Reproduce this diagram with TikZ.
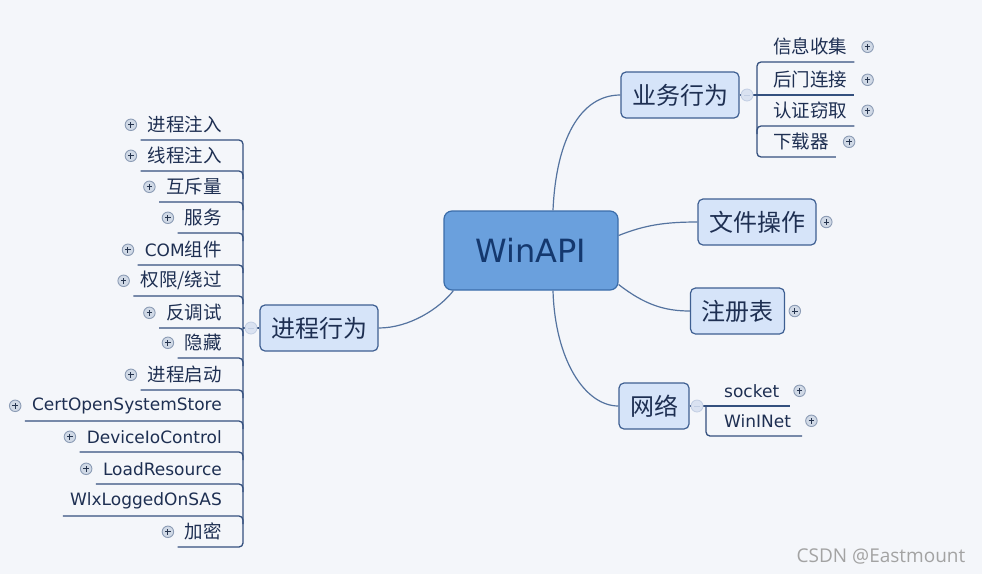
\documentclass[tikz,border=0pt]{standalone}
\usepackage{fontspec}
\setmainfont{DejaVu Sans}
\newfontfamily\cjk{Noto Sans CJK SC}
\newfontfamily\wmfont{Open Sans}
\usetikzlibrary{positioning}
\definecolor{bgcol}{HTML}{F4F6FA}
\definecolor{linkcol}{HTML}{54739F}
\definecolor{twigcol}{HTML}{34507E}
\definecolor{txtcol}{HTML}{1E2F52}
\definecolor{boxfill}{HTML}{D6E4F9}
\definecolor{boxline}{HTML}{3E5F92}
\definecolor{rootfill}{HTML}{6AA0DD}
\definecolor{rootline}{HTML}{3B6DAA}
\definecolor{roottext}{HTML}{14386E}
\definecolor{plusfill}{HTML}{D0D9E6}
\definecolor{plusline}{HTML}{8C9CB5}
\definecolor{plusmark}{HTML}{26354F}
\definecolor{minusfill}{HTML}{DAE2F1}
\definecolor{minusline}{HTML}{C2CEE3}
\definecolor{wmcol}{HTML}{A3A3A3}
\newcommand{\zh}{\cjk\fontsize{18.5}{20}\selectfont}

\begin{document}
\begin{tikzpicture}[x=1pt,y=-1pt,
  leaf/.style={font=\zh, text=txtcol, inner xsep=7pt, inner ysep=0pt, minimum height=30pt},
  leafl/.style={leaf, anchor=south east},
  leafr/.style={leaf, anchor=south west},
  latin/.style={font=\fontsize{17}{20}\selectfont},
  twig/.style={draw=twigcol, line width=1.3pt, rounded corners=4pt},
  link/.style={draw=linkcol, line width=1.2pt},
  topic/.style={draw=boxline, fill=boxfill, line width=1.2pt, rounded corners=5pt, minimum height=46pt, inner xsep=11pt, font=\cjk\fontsize{24}{26}\selectfont, text=txtcol},
  expander/.style={circle, draw=plusline, fill=plusfill, line width=0.9pt, minimum size=11.5pt, inner sep=0pt,
    path picture={\draw[plusmark, line width=1pt] ([xshift=-2.8pt]path picture bounding box.center) -- ([xshift=2.8pt]path picture bounding box.center) ([yshift=-2.8pt]path picture bounding box.center) -- ([yshift=2.8pt]path picture bounding box.center);}},
  collapser/.style={circle, draw=minusline, fill=minusfill, line width=0.8pt, minimum size=12pt, inner sep=0pt,
    path picture={\draw[minusline, line width=0.8pt] ([xshift=-2.8pt]path picture bounding box.center) -- ([xshift=2.8pt]path picture bounding box.center);}}]
\useasboundingbox (0,0) rectangle (982,574);
\fill[bgcol] (0,0) rectangle (982,574);
\node[draw=rootline, fill=rootfill, line width=1.2pt, rounded corners=8pt, minimum width=174pt, minimum height=79pt, text=roottext, font=\fontsize{32}{36}\selectfont] (root) at (531,250.5) {WinAPI};
\node[topic] (b1) at (319,328) {进程行为};
\node[topic] (b2) at (680,95) {业务行为};
\node[topic] (b3) at (757,222) {文件操作};
\node[topic] (b4) at (737.5,311) {注册表};
\node[topic] (b5) at (654,406) {网络};
\draw[link] ([xshift=10pt]root.south west) .. controls (440,308) and (410,328) .. (b1.east);
\draw[link] ([xshift=22pt]root.north) .. controls (556,140) and (580,95) .. (b2.west);
\draw[link] ([yshift=15pt]root.east) .. controls (645,225) and (665,222) .. (b3.west);
\draw[link] ([yshift=-34pt]root.east) .. controls (645,305) and (665,311) .. (b4.west);
\draw[link] ([xshift=22pt]root.south) .. controls (555,360) and (585,406) .. (b5.west);
\node[expander, right=3.5pt of b3] {};
\node[expander, right=3.5pt of b4] {};
\node[leafl] (p1) at (229,140) {进程注入};
\node[leafl] (p2) at (229,171) {线程注入};
\node[leafl] (p3) at (229,202) {互斥量};
\node[leafl] (p4) at (229,233) {服务};
\node[leafl, latin] (p5) at (229,265) {COM{\zh 组件}};
\node[leafl] (p6) at (229,296) {权限/绕过};
\node[leafl] (p7) at (229,328) {反调试};
\node[leafl] (p8) at (229,358) {隐藏};
\node[leafl] (p9) at (229,390) {进程启动};
\node[leafl, latin] (p10) at (229,421) {CertOpenSystemStore};
\node[leafl, latin] (p11) at (229,452) {DeviceIoControl};
\node[leafl, latin] (p12) at (229,484) {LoadResource};
\node[leafl, latin] (p13) at (229,516) {WlxLoggedOnSAS};
\node[leafl] (p14) at (229,547) {加密};
\node[expander, left=3.5pt of p1] {};
\node[expander, left=3.5pt of p2] {};
\node[expander, left=3.5pt of p3] {};
\node[expander, left=3.5pt of p4] {};
\node[expander, left=3.5pt of p5] {};
\node[expander, left=3.5pt of p6] {};
\node[expander, left=3.5pt of p7] {};
\node[expander, left=3.5pt of p8] {};
\node[expander, left=3.5pt of p9] {};
\node[expander, left=3.5pt of p10] {};
\node[expander, left=3.5pt of p11] {};
\node[expander, left=3.5pt of p12] {};
\node[expander, left=3.5pt of p14] {};
\coordinate (spl) at (243,328);
\draw[twig] (p1.south west) -| (spl) |- (p14.south west);
\draw[twig] (p2.south west) -| ([yshift=-8pt]p2.south -| spl);
\draw[twig] (p3.south west) -| ([yshift=-8pt]p3.south -| spl);
\draw[twig] (p4.south west) -| ([yshift=-8pt]p4.south -| spl);
\draw[twig] (p5.south west) -| ([yshift=-8pt]p5.south -| spl);
\draw[twig] (p6.south west) -| ([yshift=-8pt]p6.south -| spl);
\draw[twig] (p7.south west) -| ([yshift=-8pt]p7.south -| spl);
\draw[twig] (p8.south west) -| ([yshift=-8pt]p8.south -| spl);
\draw[twig] (p9.south west) -| ([yshift=-8pt]p9.south -| spl);
\draw[twig] (p10.south west) -| ([yshift=-8pt]p10.south -| spl);
\draw[twig] (p11.south west) -| ([yshift=-8pt]p11.south -| spl);
\draw[twig] (p12.south west) -| ([yshift=-8pt]p12.south -| spl);
\draw[twig] (p13.south west) -| ([yshift=-8pt]p13.south -| spl);
\draw[twig] (spl) -- (b1.west);
\node[collapser] (m1) at (251,328) {};
\node[leafr] (q1) at (766,62) {信息收集};
\node[leafr] (q2) at (766,95) {后门连接};
\node[leafr] (q3) at (766,126) {认证窃取};
\node[leafr] (q4) at (766,157) {下载器};
\node[expander, right=7pt of q1] {};
\node[expander, right=7pt of q2] {};
\node[expander, right=7pt of q3] {};
\node[expander, right=7pt of q4] {};
\coordinate (spr) at (757,95);
\draw[twig] (q1.south east) -| (spr) |- (q4.south east);
\draw[twig] (q3.south east) -| ([yshift=-8pt]q3.south -| spr);
\draw[twig] (b2.east) -- (q2.south east);
\node[collapser] (m2) at (747,95) {};
\node[leafr, latin, inner xsep=11pt] (r1) at (713,406) {socket};
\node[leafr, latin, inner xsep=11pt] (r2) at (713,436) {WinINet};
\node[expander, right=3pt of r1] {};
\node[expander, right=3pt of r2] {};
\coordinate (spn) at (706,406);
\draw[twig] (b5.east) -- (r1.south east);
\draw[twig] (spn) |- (r2.south east);
\node[collapser] (m5) at (697,406) {};
\node[font=\wmfont\fontsize{19}{22}\selectfont, text=wmcol] (wm) at (881,556) {CSDN @Eastmount};
\end{tikzpicture}
\end{document}
